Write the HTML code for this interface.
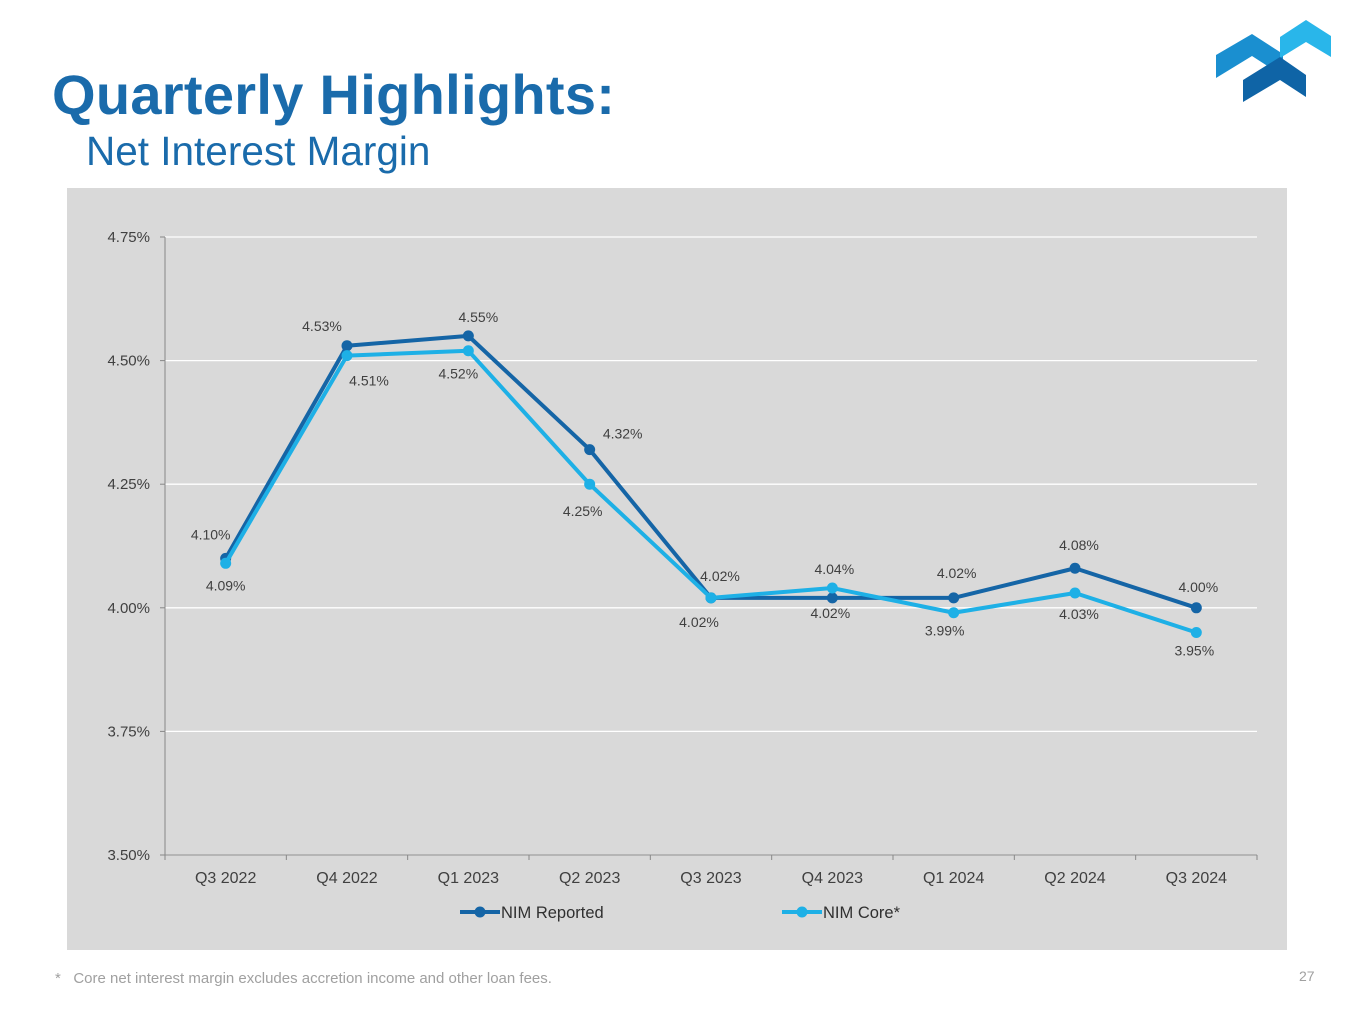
<!DOCTYPE html>
<html><head><meta charset="utf-8"><style>
body{margin:0;width:1365px;height:1024px;background:#fff;font-family:"Liberation Sans",Arial,sans-serif;position:relative;overflow:hidden}
.t1{position:absolute;left:52px;top:62px;font-size:56px;font-weight:bold;color:#1a6bab;letter-spacing:0.3px}
.t2{position:absolute;left:86px;top:128px;font-size:40.5px;color:#1a6bab}
.foot{position:absolute;left:55px;top:970px;font-size:15px;color:#a0a0a0}
.pg{position:absolute;left:1299px;top:968px;font-size:14px;color:#a0a0a0}
</style></head><body>
<div class="t1">Quarterly Highlights:</div>
<div class="t2">Net Interest Margin</div>
<svg style="position:absolute;left:0;top:0" width="1365" height="120">
<polygon points="1216,55 1252,34 1283,54 1283,76 1252,56 1216,78" fill="#1a8fd0"/>
<polygon points="1280,37 1306,20 1331,36 1331,57 1306,42 1280,58" fill="#29b6ea"/>
<polygon points="1243,80 1280,57 1306,75 1306,97 1280,80 1243,102" fill="#0f64a6"/>
</svg>
<svg id="chart" style="position:absolute;left:0;top:0" width="1365" height="1024" font-family="Liberation Sans, Arial, sans-serif"></svg>
<div class="foot">*&nbsp;&nbsp;&nbsp;Core net interest margin excludes accretion income and other loan fees.</div>
<div class="pg">27</div>
<script>
const categories=["Q3 2022","Q4 2022","Q1 2023","Q2 2023","Q3 2023","Q4 2023","Q1 2024","Q2 2024","Q3 2024"];
const reported=[4.10,4.53,4.55,4.32,4.02,4.02,4.02,4.08,4.00];
const core=[4.09,4.51,4.52,4.25,4.02,4.04,3.99,4.03,3.95];
const yTicks=[3.50,3.75,4.00,4.25,4.50,4.75];
const repDx=[-15,-25,10,33,9,-2,3,4,2];
const repDy=[-24,-20,-19,-16,-22,15,-25,-23,-21];
const coreDx=[0,22,-10,-7,-12,2,-9,4,-2];
const coreDy=[22,25,23,27,24,-19,18,21,18];
const NS="http://www.w3.org/2000/svg";
const svg=document.getElementById('chart');
const X0=165,X1=1257,Y0=855,Y1=237;
const step=(X1-X0)/categories.length;
const x=i=>X0+step*(i+0.5);
const y=v=>Y0-(v-3.5)/1.25*(Y0-Y1);
function mk(t,a,txt){const e=document.createElementNS(NS,t);for(const k in a)e.setAttribute(k,a[k]);if(txt!==undefined)e.textContent=txt;svg.appendChild(e);return e;}
const bg=mk('rect',{x:67,y:188,width:1220,height:762,fill:'#d9d9d9'});


yTicks.forEach(v=>{
 const g=mk('line',{x1:X0,x2:X1,y1:y(v),y2:y(v),stroke:'#fff','stroke-width':1.3});
 
 
 const t=mk('text',{x:150,y:y(v)+5,'text-anchor':'end','font-size':15,fill:'#404040'},v.toFixed(2)+'%');
 
 
 mk('line',{x1:X0-5,x2:X0,y1:y(v),y2:y(v),stroke:'#888'});
});
mk('line',{x1:X0,x2:X0,y1:Y1,y2:Y0,stroke:'#888'});
mk('line',{x1:X0,x2:X1,y1:Y0,y2:Y0,stroke:'#888'});
categories.forEach((c,i)=>{
 mk('line',{x1:X0+step*i,x2:X0+step*i,y1:Y0,y2:Y0+5,stroke:'#888'});
 const t=mk('text',{x:x(i),y:Y0+28,'text-anchor':'middle','font-size':16,fill:'#404040'},c);
 
 
});
mk('line',{x1:X1,x2:X1,y1:Y0,y2:Y0+5,stroke:'#888'});
function series(vals,col,name,dx,dy){
 const p=mk('polyline',{points:vals.map((v,i)=>x(i)+','+y(v)).join(' '),fill:'none',stroke:col,'stroke-width':4,'stroke-linejoin':'round'});
 
 
 vals.forEach((v,i)=>{
  const c=mk('circle',{cx:x(i),cy:y(v),r:5.5,fill:col});
  
  
  const t=mk('text',{x:x(i)+dx[i],y:y(v)+dy[i]+5,'text-anchor':'middle','font-size':14,fill:'#404040'},v.toFixed(2)+'%');
  
  
 });
}
series(reported,'#1565a6','nim-reported',repDx,repDy);
series(core,'#1eb0e6','nim-core',coreDx,coreDy);
function leg(x0,col,label,name){
 mk('line',{x1:x0,x2:x0+40,y1:912,y2:912,stroke:col,'stroke-width':4});
 mk('circle',{cx:x0+20,cy:912,r:5.5,fill:col});
 const t=mk('text',{x:x0+41,y:918,'font-size':16.5,fill:'#303030'},label);
 
 
}
leg(460,'#1565a6','NIM Reported','legend-nim-reported');
leg(782,'#1eb0e6','NIM Core*','legend-nim-core');
</script>
</body></html>
